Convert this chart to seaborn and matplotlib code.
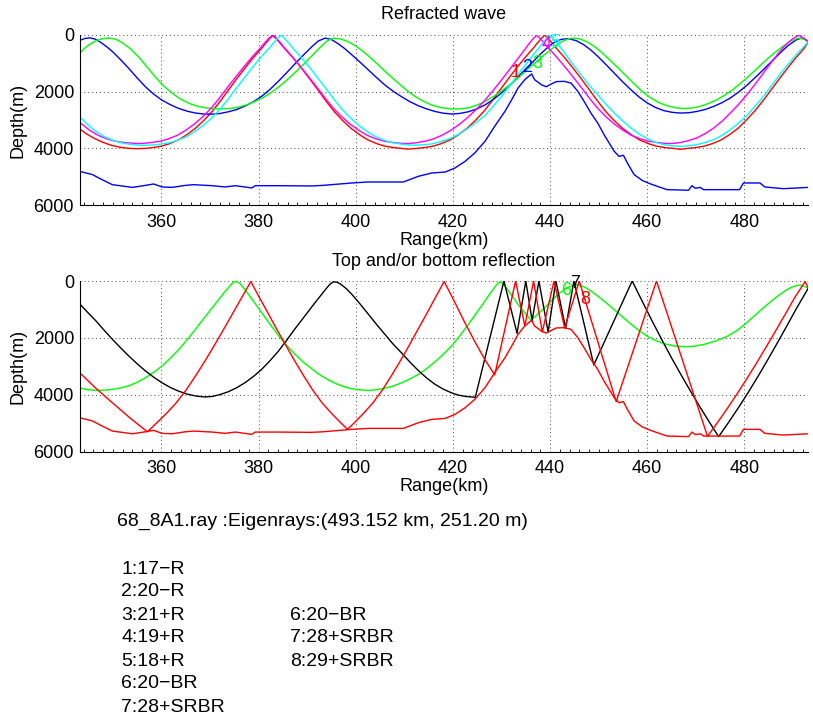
import matplotlib
matplotlib.use("Agg")
import matplotlib.pyplot as plt
from matplotlib.ticker import MultipleLocator
import seaborn as sns

sns.set_theme(style="white")
plt.rcParams["font.family"] = ["Liberation Sans", "DejaVu Sans"]
plt.rcParams.update({"text.color": "black", "axes.labelcolor": "black",
                     "xtick.color": "black", "ytick.color": "black"})

# ---------------------------------------------------------------- data
range_lim = (343.152, 493.152)
range_ticks = [360, 380, 400, 420, 440, 460, 480]
depth_ticks = [0, 2000, 4000, 6000]

# seafloor profile along the section
bathy_r = [343.152, 345.8, 347.8, 349.9, 354.0, 356.7, 358.4, 360.1, 362.2, 364.9,
           366.6, 370.4, 373.1, 375.2, 378.6, 379.3, 384.0, 390.9, 393.2, 399.2,
           402.6, 409.8, 412.9, 415.6, 418.4, 420.4, 422.5, 424.5, 426.6, 428.6,
           430.7, 432.1, 433.4, 434.8, 435.6, 436.2, 436.8, 438.2, 439.2, 440.3,
           441.3, 442.9, 444.3, 445.7, 447.0, 448.4, 449.8, 451.1, 453.2, 454.2,
           455.1, 455.9, 457.3, 459.0, 460.7, 462.7, 464.1, 468.5, 469.2, 469.9,
           470.9, 471.6, 479.0, 479.8, 483.2, 484.2, 488.0, 493.152]
bathy_d = [4805, 4920, 5100, 5275, 5370, 5300, 5250, 5355, 5370, 5300,
           5275, 5310, 5355, 5310, 5390, 5310, 5310, 5320, 5300, 5215,
           5180, 5180, 4980, 4865, 4830, 4690, 4455, 4160, 3750, 3220,
           2700, 2285, 1875, 1580, 1465, 1380, 1580, 1760, 1830, 1730,
           1650, 1640, 1700, 1990, 2345, 2755, 3105, 3515, 4100, 4280,
           4240, 4510, 4920, 5130, 5250, 5370, 5450, 5470, 5310, 5400,
           5370, 5450, 5450, 5215, 5215, 5355, 5415, 5370]

# ---- refracted eigenrays
ray1_r = [343.152, 344.5, 346.2, 348.0, 349.7, 351.5, 353.2, 354.7,
          356.5, 358.2, 360.0, 361.7, 363.5, 365.2, 367.0, 368.7, 370.4, 372.1,
          373.8, 375.5, 377.2, 378.9, 380.6, 381.5, 382.3, 383.0,
          383.7, 384.5, 385.4, 387.1, 388.8, 390.5, 392.2, 393.9, 395.6, 397.3,
          399.0, 400.8, 402.5, 404.3, 406.0, 407.8, 409.5, 410.8,
          412.4, 414.1, 415.9, 417.6, 419.4, 421.1, 422.9, 424.6, 426.3, 428.0,
          429.7, 431.4, 433.1, 434.8, 436.5, 437.4, 438.2, 438.9,
          439.6, 440.4, 441.3, 443.0, 444.7, 446.4, 448.1, 449.8, 451.5, 453.2,
          454.9, 456.7, 458.4, 460.2, 461.9, 463.7, 465.4, 466.8,
          468.2, 469.9, 471.7, 473.4, 475.2, 476.9, 478.7, 480.4, 482.1, 483.8,
          485.5, 487.2, 488.9, 490.6, 492.3, 493.152]
ray1_d = [3310, 3480, 3650, 3790, 3890, 3960, 3995, 4010,
          4000, 3970, 3920, 3830, 3700, 3520, 3290, 3020, 2710, 2340,
          1940, 1550, 1170, 810, 480, 290, 130, 20,
          130, 290, 480, 810, 1170, 1550, 1940, 2340, 2710, 3020,
          3290, 3520, 3700, 3830, 3920, 3970, 4000, 4025,
          4000, 3970, 3920, 3830, 3700, 3520, 3290, 3020, 2710, 2340,
          1940, 1550, 1170, 810, 480, 290, 130, 20,
          130, 290, 480, 810, 1170, 1550, 1940, 2340, 2710, 3020,
          3290, 3520, 3700, 3830, 3920, 3970, 4000, 4030,
          4000, 3970, 3920, 3830, 3700, 3520, 3290, 3000, 2690, 2330,
          1940, 1550, 1170, 810, 480, 251.2]

ray2_r = [343.152, 344.3, 345.3, 346.4, 347.5, 348.7, 349.9, 351.6, 353.3, 355.0,
          356.7, 358.4, 360.0, 361.8, 363.5, 365.3, 367.0, 368.7, 370.4, 372.1,
          373.8, 375.5, 377.2, 378.9, 380.6, 382.3, 384.0, 385.7, 387.4, 389.2,
          390.9, 392.3, 393.7, 395.0, 396.4, 397.8, 399.2, 400.9, 402.6, 404.3,
          406.0, 407.7, 409.5, 411.2, 412.9, 414.6, 416.3, 418.0, 419.7, 421.4,
          423.2, 424.9, 426.6, 428.3, 430.0, 431.7, 433.4, 434.8, 436.2, 437.9,
          439.6, 441.0, 442.4, 443.8, 445.4, 447.0, 448.4, 449.8, 451.5, 453.2,
          454.9, 456.6, 458.3, 460.0, 461.7, 463.4, 465.1, 466.8, 468.5, 470.2,
          471.9, 473.7, 475.4, 477.1, 478.8, 480.5, 482.2, 483.9, 485.6, 487.3,
          489.0, 490.7, 491.7, 492.5, 493.152]
ray2_d = [200, 130, 110, 160, 270, 420, 590, 880, 1190, 1520,
          1830, 2090, 2290, 2460, 2590, 2690, 2755, 2790, 2795, 2770,
          2710, 2630, 2510, 2360, 2170, 1930, 1650, 1350, 1040, 720,
          430, 220, 120, 170, 320, 500, 710, 970, 1240, 1510,
          1770, 1990, 2190, 2360, 2500, 2610, 2700, 2760, 2790, 2770,
          2710, 2610, 2470, 2280, 2050, 1780, 1480, 1240, 1000, 700,
          430, 250, 160, 140, 210, 360, 540, 760, 1050, 1350,
          1650, 1930, 2190, 2400, 2560, 2670, 2730, 2755, 2745, 2700,
          2630, 2520, 2390, 2225, 2020, 1780, 1510, 1230, 940, 650,
          380, 180, 120, 160, 251.2]

ray3_r = [343.152, 344.1, 345.1, 346.2, 347.2, 348.2, 349.2, 350.6, 352.0, 353.7,
          355.4, 357.1, 358.8, 360.5, 362.2, 363.9, 365.6, 367.3, 369.0, 370.7,
          372.4, 374.1, 375.8, 377.5, 379.2, 381.0, 382.7, 384.4, 386.1, 387.8,
          389.5, 391.2, 392.8, 394.1, 395.4, 396.9, 398.5, 400.2, 401.9, 403.6,
          405.3, 407.0, 408.8, 410.5, 412.2, 413.9, 415.6, 417.6, 419.7, 421.4,
          423.2, 424.9, 426.6, 428.3, 430.0, 431.7, 433.4, 435.1, 436.8, 438.5,
          440.2, 441.5, 442.8, 443.9, 445.0, 446.3, 447.7, 449.0, 450.4, 452.1,
          453.9, 455.6, 457.3, 459.0, 460.7, 462.4, 464.1, 465.8, 467.5, 469.2,
          470.9, 472.6, 474.3, 476.0, 477.7, 479.4, 481.2, 482.9, 484.6, 486.3,
          488.0, 489.6, 491.1, 492.2, 493.152]
ray3_d = [660, 490, 350, 240, 170, 130, 117, 160, 290, 510,
          800, 1150, 1500, 1810, 2060, 2260, 2410, 2510, 2570, 2605,
          2610, 2595, 2550, 2470, 2350, 2200, 2020, 1800, 1550, 1280,
          1000, 700, 420, 220, 117, 150, 250, 420, 640, 900,
          1170, 1440, 1710, 1960, 2170, 2340, 2470, 2570, 2610, 2610,
          2570, 2480, 2350, 2180, 1980, 1760, 1520, 1260, 1000, 750,
          520, 340, 210, 140, 117, 160, 260, 400, 590, 860,
          1150, 1440, 1730, 2000, 2220, 2390, 2500, 2570, 2595, 2580,
          2520, 2420, 2290, 2120, 1920, 1680, 1410, 1140, 870, 620,
          400, 220, 120, 150, 251.2]

ray4_r = [343.152, 345.2, 346.9, 348.7, 350.4, 352.2, 353.9, 355.4,
          356.3, 358.0, 359.8, 361.5, 363.3, 365.0, 366.8, 368.5, 370.2, 371.9,
          373.6, 375.3, 377.0, 378.7, 380.4, 381.3, 382.1, 382.8,
          383.5, 384.3, 385.2, 386.9, 388.6, 390.3, 392.0, 393.7, 395.4, 397.1,
          398.8, 400.6, 402.3, 404.1, 405.8, 407.6, 409.3, 410.8,
          412.4, 414.2, 415.9, 417.7, 419.4, 421.2, 422.9, 424.6, 426.3, 428.0,
          429.7, 431.4, 433.1, 434.8, 435.7, 436.5, 437.2,
          437.9, 438.7, 439.6, 441.3, 443.0, 444.7, 446.4, 448.1, 449.8, 451.5,
          453.2, 455.0, 456.7, 458.5, 460.2, 462.0, 463.5, 464.7,
          466.6, 468.4, 470.2, 472.0, 473.7, 475.4, 477.1, 478.8, 480.5, 482.2,
          483.9, 485.6, 487.3, 488.6, 489.8, 490.7, 491.3, 492.2, 493.152]
ray4_d = [3080, 3360, 3535, 3660, 3745, 3790, 3815, 3830,
          3820, 3790, 3745, 3660, 3535, 3360, 3140, 2885, 2590, 2235,
          1850, 1480, 1120, 775, 460, 275, 125, 20,
          125, 275, 460, 775, 1120, 1480, 1850, 2235, 2590, 2885,
          3140, 3360, 3535, 3660, 3745, 3790, 3820, 3830,
          3800, 3750, 3670, 3540, 3380, 3170, 2930, 2660, 2360, 2020,
          1660, 1280, 900, 520, 310, 140, 20,
          125, 275, 460, 775, 1120, 1480, 1850, 2235, 2590, 2885,
          3140, 3360, 3535, 3660, 3745, 3790, 3820, 3830,
          3800, 3730, 3630, 3470, 3280, 3040, 2755, 2450, 2110, 1740,
          1350, 960, 586, 340, 160, 60, 20, 120, 251.2]

ray5_r = [343.152, 344.6, 346.3, 348.0, 349.8, 351.5, 353.3, 355.0, 356.7,
          358.1, 359.8, 361.6, 363.3, 365.1, 366.8, 368.6, 370.3, 372.0, 373.7,
          375.4, 377.1, 378.8, 380.5, 382.2, 383.1, 383.9, 384.6,
          385.3, 386.1, 387.0, 388.7, 390.4, 392.1, 393.8, 395.5, 397.2, 398.9,
          400.6, 402.4, 404.1, 405.9, 407.6, 409.4, 411.1, 412.2,
          414.0, 415.6, 417.7, 419.7, 421.5, 423.2, 424.9, 426.6, 428.3, 430.0,
          431.7, 433.4, 435.1, 436.8, 437.9, 438.9, 439.7,
          440.4, 441.2, 442.0, 442.8, 444.5, 446.3, 448.0, 449.8, 451.5, 453.2,
          454.9, 456.6, 458.3, 460.0, 461.7, 463.4, 465.1, 466.8,
          468.5, 470.2, 471.9, 473.7, 475.4, 477.1, 478.8, 480.5, 482.2, 483.9,
          485.6, 487.3, 489.0, 490.7, 492.0, 493.152]
ray5_d = [2890, 3130, 3380, 3570, 3700, 3795, 3850, 3880, 3890,
          3880, 3850, 3800, 3715, 3590, 3415, 3190, 2930, 2630, 2270,
          1880, 1505, 1135, 785, 465, 280, 125, 20,
          125, 280, 465, 785, 1135, 1505, 1880, 2270, 2630, 2930,
          3190, 3415, 3590, 3715, 3800, 3850, 3880, 3890,
          3870, 3840, 3750, 3630, 3470, 3280, 3070, 2840, 2510, 2170,
          1790, 1400, 1020, 645, 420, 210, 20,
          110, 260, 420, 600, 1000, 1400, 1770, 2110, 2450, 2755,
          3030, 3280, 3490, 3660, 3785, 3865, 3910, 3925,
          3910, 3865, 3790, 3690, 3540, 3340, 3110, 2840, 2520, 2170,
          1790, 1400, 1040, 700, 460, 251.2]

# ---- surface / bottom reflected eigenrays
ray6_r = [343.152, 344.8, 346.5, 348.2, 349.9, 351.6, 353.3, 355.0, 356.7, 358.4,
          360.1, 361.8, 363.5, 365.2, 366.9, 368.6, 370.4, 371.6, 372.8, 373.8,
          374.6, 375.0, 375.5, 376.1, 376.8, 377.7, 378.6, 380.0, 381.3, 382.7,
          384.1, 385.7, 387.4, 389.1, 390.9, 392.0, 393.2, 394.5, 395.8, 397.5,
          399.2, 400.9, 402.6, 404.3, 406.0, 407.7, 409.5, 411.2, 412.9, 414.6,
          416.3, 418.0, 419.7, 421.4, 423.2, 424.9, 426.6, 427.6, 428.6, 429.2,
          429.7, 430.2, 430.7, 432.0, 433.4, 434.7, 436.1, 437.3, 438.5, 439.5,
          440.4, 441.5, 442.7, 443.5, 444.3, 445.0, 445.6, 446.3, 447.0, 448.3,
          449.8, 451.5, 453.2, 454.9, 456.6, 458.3, 460.0, 461.7, 463.4, 465.6,
          467.8, 469.7, 471.6, 473.3, 475.0, 476.7, 478.4, 480.1, 481.9, 483.6,
          485.3, 487.0, 488.7, 489.8, 491.0, 492.1, 493.152]
ray6_d = [3760, 3820, 3845, 3840, 3810, 3760, 3680, 3560, 3400, 3210,
          2990, 2720, 2420, 2080, 1720, 1340, 950, 690, 430, 230,
          80, 30, 25, 80, 220, 420, 630, 960, 1270, 1600,
          1920, 2250, 2560, 2840, 3080, 3230, 3360, 3490, 3600, 3710,
          3790, 3830, 3845, 3820, 3770, 3690, 3575, 3440, 3280, 3080,
          2840, 2580, 2285, 1930, 1520, 1110, 700, 450, 220, 90,
          30, 70, 176, 480, 820, 1100, 1380, 1190, 1000, 830,
          670, 490, 330, 240, 180, 150, 140, 160, 210, 340,
          530, 760, 1010, 1260, 1510, 1740, 1940, 2090, 2200, 2285,
          2310, 2290, 2230, 2150, 2050, 1920, 1750, 1520, 1250, 990,
          740, 510, 310, 210, 145, 170, 251.2]

ray7_r = [343.152, 344.8, 346.5, 348.2, 349.9, 351.6, 353.3, 355.0, 356.7, 358.4,
          360.1, 361.8, 363.5, 365.4, 367.3, 368.9, 370.4, 372.1, 373.8, 375.5,
          377.2, 378.9, 380.6, 382.3, 384.1, 385.7, 387.4, 389.2, 390.9, 392.0,
          393.2, 394.0, 394.7, 395.4, 396.1, 396.8, 398.0, 399.2, 400.9, 402.6,
          404.3, 406.0, 407.7, 409.5, 411.2, 412.9, 414.6, 416.3, 418.0, 419.7,
          421.1, 422.5, 424.6, 430.5, 433.2, 435.0, 436.3, 437.7, 439.6, 441.2,
          443.2, 444.9, 449.0, 456.9, 458.9, 460.9, 462.9, 464.9, 466.9, 468.9,
          470.9, 472.9, 474.7, 476.7, 478.7, 480.7, 482.7, 484.7, 486.7, 488.7,
          490.7, 493.152]
ray7_d = [800, 1100, 1400, 1730, 2050, 2350, 2640, 2910, 3160, 3380,
          3575, 3740, 3870, 3980, 4050, 4075, 4060, 3990, 3890, 3750,
          3575, 3360, 3110, 2810, 2460, 2100, 1700, 1300, 920, 680,
          420, 250, 110, 30, 40, 100, 260, 470, 810, 1170,
          1530, 1875, 2220, 2540, 2860, 3150, 3410, 3630, 3800, 3930,
          4010, 4055, 4090, 0, 1840, 0, 1390, 0, 1790, 0,
          1660, 0, 2950, 0, 690, 1370, 2030, 2670, 3280, 3870,
          4440, 4990, 5470, 4980, 4470, 3940, 3380, 2800, 2200, 1590,
          970, 251.2]

ray8_r = [343.152, 346.5, 349.9, 353.5, 357.1, 359.0, 361.0, 363.0, 365.0, 367.0,
          369.0, 371.0, 373.0, 375.0, 376.7, 378.4, 380.0, 381.65, 383.55, 385.5,
          387.4, 389.3, 391.2, 393.1, 395.05, 396.95, 398.3, 399.65, 401.55, 403.5,
          405.4, 407.3, 409.2, 411.1, 413.0, 414.95, 416.55, 418.2, 420.3, 422.5,
          424.6, 426.6, 428.6, 432.9, 434.8, 436.6, 438.4, 440.8, 443.0, 446.0,
          453.6, 461.9, 472.4, 474.4, 476.4, 478.4, 480.4, 482.4, 484.4, 486.4,
          488.4, 490.4, 492.5, 493.152]
ray8_d = [3220, 3770, 4280, 4810, 5300, 4990, 4660, 4290, 3850, 3340,
          2800, 2230, 1640, 1040, 530, 20, 530, 1040, 1640, 2230,
          2800, 3340, 3850, 4290, 4660, 4990, 5215, 4990, 4660, 4290,
          3850, 3340, 2800, 2230, 1640, 1040, 530, 20, 720, 1480,
          2160, 2770, 3300, 0, 1580, 0, 1790, 0, 1650, 0,
          4240, 0, 5460, 4990, 4500, 3990, 3460, 2910, 2340, 1760,
          1170, 570, 20, 251.2]

top_rays = [(ray1_r, ray1_d, "#ff0000"), (ray2_r, ray2_d, "#0000ff"),
            (ray3_r, ray3_d, "#00ff00"), (ray4_r, ray4_d, "#ff00ff"),
            (ray5_r, ray5_d, "#00ffff")]
bottom_rays = [(ray6_r, ray6_d, "#00ff00"), (ray7_r, ray7_d, "#000000"),
               (ray8_r, ray8_d, "#ff0000")]

top_labels = [("1", 433.0, 1330, "#ff0000"), ("2", 435.2, 1150, "#0000ff"),
              ("3", 437.4, 1000, "#00ff00"), ("4", 439.3, 330, "#ff00ff"),
              ("5", 441.1, 280, "#00ffff")]
bottom_labels = [("6", 443.3, 340, "#00ff00"), ("7", 445.2, 80, "#000000"),
                 ("8", 447.3, 660, "#ff0000")]

header = "68_8A1.ray :Eigenrays:(493.152 km, 251.20 m)"
list_col1 = ["1:17\u2212R", "2:20\u2212R", "3:21+R", "4:19+R", "5:18+R",
             "6:20\u2212BR", "7:28+SRBR"]
list_col2 = ["6:20\u2212BR", "7:28+SRBR", "8:29+SRBR"]

# ---------------------------------------------------------------- figure
W, H = 813, 715
fig = plt.figure(figsize=(W / 100, H / 100), dpi=100)
FS = 13
FS_TXT = 14
FS_RAY = 13

ax_top = fig.add_axes([79.6 / W, 1 - 205.3 / H, 728.7 / W, 170.6 / H])
ax_bot = fig.add_axes([79.6 / W, 1 - 451.7 / H, 728.7 / W, 170.7 / H])


def style_axes(ax, title):
    ax.set_xlim(*range_lim)
    ax.set_ylim(6000, 0)
    ax.set_xticks(range_ticks)
    ax.set_yticks(depth_ticks)
    ax.xaxis.set_minor_locator(MultipleLocator(2))
    ax.set_axisbelow(True)
    ax.grid(True, which="major", linestyle=(0, (1, 3)), color="0.3", linewidth=0.7)
    for side in ("top", "right"):
        ax.spines[side].set_visible(False)
    for side in ("left", "bottom"):
        ax.spines[side].set_color("black")
        ax.spines[side].set_linewidth(0.8)
    ax.tick_params(which="major", direction="in", length=4.5, width=0.8,
                   colors="black", labelsize=FS, pad=4)
    ax.tick_params(axis="x", which="major", pad=6)
    ax.tick_params(which="minor", axis="x", direction="in", length=2,
                   width=0.6, colors="black", bottom=True)
    ax.set_xlabel("Range(km)", fontsize=FS, labelpad=1)
    ax.set_ylabel("Depth(m)", fontsize=FS, labelpad=5)
    ax.set_title(title, fontsize=FS, pad=11)


for r, d, c in top_rays:
    sns.lineplot(x=r, y=d, ax=ax_top, color=c, linewidth=1.0,
                 sort=False, estimator=None)
sns.lineplot(x=bathy_r, y=bathy_d, ax=ax_top, color="#0000ff", linewidth=1.0,
             sort=False, estimator=None)
for txt, x, y, c in top_labels:
    ax_top.text(x, y, txt, color=c, fontsize=FS_RAY, ha="center", va="center")
style_axes(ax_top, "Refracted wave")

for r, d, c in bottom_rays:
    sns.lineplot(x=r, y=d, ax=ax_bot, color=c, linewidth=1.0,
                 sort=False, estimator=None)
sns.lineplot(x=bathy_r, y=bathy_d, ax=ax_bot, color="#ff0000", linewidth=1.0,
             sort=False, estimator=None)
for txt, x, y, c in bottom_labels:
    ax_bot.text(x, y, txt, color=c, fontsize=FS_RAY, ha="center", va="center")
style_axes(ax_bot, "Top and/or bottom reflection")

# eigenray summary below the plots
fig.text(117 / W, 1 - 521 / H, header, fontsize=FS_TXT, ha="left", va="center")
for i, s in enumerate(list_col1):
    fig.text(121 / W, 1 - (569 + 23 * i) / H, s, fontsize=FS_TXT,
             ha="left", va="center")
for i, s in enumerate(list_col2):
    fig.text(290 / W, 1 - (615 + 23 * i) / H, s, fontsize=FS_TXT,
             ha="left", va="center")

fig.savefig("out.png", dpi=100)
